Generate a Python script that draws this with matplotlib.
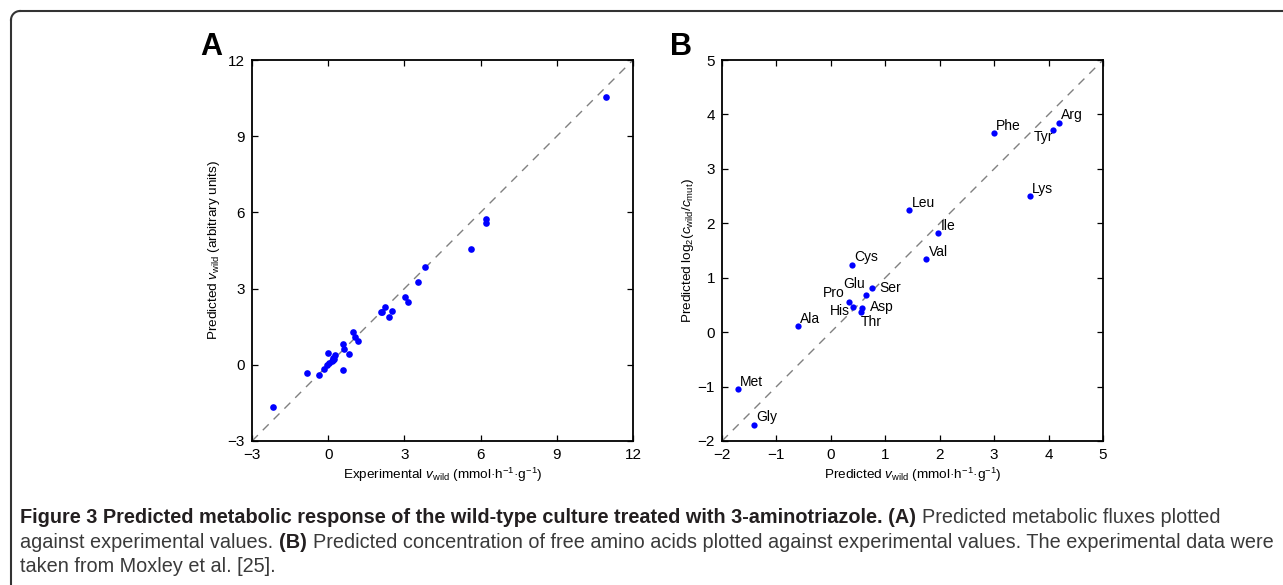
import numpy as np
import matplotlib.pyplot as plt

plt.rcParams['font.family'] = ['Liberation Sans', 'DejaVu Sans']
plt.rcParams['mathtext.fontset'] = 'custom'
plt.rcParams['mathtext.rm'] = 'Liberation Sans'
plt.rcParams['mathtext.it'] = 'Liberation Sans:italic'

W, H = 1283, 585

# panel A: experimental vs predicted fluxes
exp_flux = [10.94, 6.23, 6.20, 5.64, 3.82, 3.54, 3.01, 3.13, 2.25, 2.07, 2.13,
            2.51, 2.39, 0.99, 1.07, 1.19, 0.60, 0.62, 0.80, 0.60, 0.01, 0.27,
            0.23, 0.13, 0.03, -0.05, -0.15, -0.35, -0.85, -2.19, 0.18, 0.20]
pred_flux = [10.56, 5.73, 5.57, 4.57, 3.85, 3.27, 2.68, 2.49, 2.28, 2.09, 2.07,
             2.12, 1.89, 1.28, 1.08, 0.93, 0.81, 0.63, 0.41, -0.22, 0.45, 0.37,
             0.24, 0.16, 0.07, -0.02, -0.18, -0.40, -0.32, -1.65, 0.28, 0.20]

# panel B: amino acids
amino = ['Phe', 'Arg', 'Tyr', 'Lys', 'Leu', 'Ile', 'Val', 'Cys', 'Ser', 'Glu',
         'Pro', 'His', 'Asp', 'Thr', 'Ala', 'Met', 'Gly']
pred_v = [2.99, 4.19, 4.09, 3.65, 1.44, 1.97, 1.75, 0.38, 0.76, 0.64,
          0.33, 0.40, 0.58, 0.55, -0.61, -1.71, -1.42]
log_ratio = [3.65, 3.85, 3.72, 2.50, 2.24, 1.82, 1.34, 1.24, 0.81, 0.69,
             0.56, 0.46, 0.45, 0.37, 0.11, -1.05, -1.70]

# label placement (pixel offsets, alignment)
label_pos = {'Tyr': (0, -7, 'right'), 'Ser': (7, 0, 'left'),
             'Glu': (-1, 11, 'right'), 'Pro': (-4, 9, 'right'),
             'His': (-3, -4, 'right'), 'Asp': (8, 1, 'left'),
             'Thr': (0, -10, 'left')}

fig = plt.figure(figsize=(W / 100, H / 100), dpi=100)

# rounded frame of the figure box
bg = fig.add_axes([0, 0, 1, 1])
bg.set_xlim(0, W)
bg.set_ylim(H, 0)
bg.axis('off')
t = np.linspace(np.pi, 1.5 * np.pi, 30)
bg.plot(20 + 9 * np.cos(t), 20 + 9 * np.sin(t), color='#333333', lw=1.5)
bg.plot([11, 11], [20, H + 5], color='#333333', lw=1.5)
bg.plot([20, W + 5], [11, 11], color='#333333', lw=1.5)


def style_axes(ax):
    for s in ax.spines.values():
        s.set_linewidth(1.3)
    ax.tick_params(direction='in', top=True, right=True, length=4,
                   width=0.9, labelsize=11, pad=5)


axA = fig.add_axes([252 / W, 1 - 441 / H, 381 / W, 381 / H])
axA.plot([-3, 12], [-3, 12], color='#808080', lw=1.0, dashes=(6, 5))
axA.plot(exp_flux, pred_flux, 'o', color='#0000ff', ms=4.8, mew=0)
axA.set_xlim(-3, 12)
axA.set_ylim(-3, 12)
axA.set_xticks(np.arange(-3, 13, 3))
axA.set_yticks(np.arange(-3, 13, 3))
style_axes(axA)
axA.set_xlabel(r'Experimental $v_{\rm wild}$ (mmol·h$^{-1}$·g$^{-1}$)', fontsize=9.7, labelpad=3)
axA.set_ylabel(r'Predicted $v_{\rm wild}$ (arbitrary units)', fontsize=9.7, labelpad=4)

axB = fig.add_axes([722 / W, 1 - 441 / H, 381 / W, 381 / H])
axB.plot([-2, 5], [-2, 5], color='#808080', lw=1.0, dashes=(6, 5))
axB.plot(pred_v, log_ratio, 'o', color='#0000ff', ms=4.5, mew=0)
for name, x, y in zip(amino, pred_v, log_ratio):
    dx, dy, ha = label_pos.get(name, (2.5, 7.5, 'left'))
    axB.annotate(name, (x, y), xytext=(dx * 0.72, dy * 0.72), textcoords='offset points',
                 ha=ha, va='center', fontsize=10)
axB.set_xlim(-2, 5)
axB.set_ylim(-2, 5)
axB.set_xticks(np.arange(-2, 6, 1))
axB.set_yticks(np.arange(-2, 6, 1))
style_axes(axB)
axB.set_xlabel(r'Predicted $v_{\rm wild}$ (mmol·h$^{-1}$·g$^{-1}$)', fontsize=9.7, labelpad=3)
axB.set_ylabel(r'Predicted log$_2$($c_{\rm wild}$/$c_{\rm mut}$)', fontsize=9.7, labelpad=1)

fig.text(200 / W, 1 - 55 / H, 'A', fontsize=22, fontweight='bold', ha='left', va='baseline')
fig.text(670 / W, 1 - 55 / H, 'B', fontsize=22, fontweight='bold', ha='left', va='baseline')

# caption, written piece by piece (bold / regular)
cap_font = ['Liberation Sans Narrow', 'Liberation Sans', 'DejaVu Sans']
caption = [
    [('Figure 3 Predicted metabolic response of the wild-type culture treated with 3-aminotriazole. (A)', True),
     ('Predicted metabolic fluxes plotted', False)],
    [('against experimental values.', False), ('(B)', True),
     ('Predicted concentration of free amino acids plotted against experimental values. The experimental data were', False)],
    [('taken from Moxley et al. [25].', False)],
]
cap_y = [523, 548, 572]
fig.canvas.draw()
renderer = fig.canvas.get_renderer()
for line, y in zip(caption, cap_y):
    x = 20
    for txt, bold in line:
        tt = fig.text(x / W, 1 - y / H, txt, family=cap_font, fontsize=14.3,
                      fontweight='bold' if bold else 'normal',
                      color='#231f20' if bold else '#3a3a3a', va='baseline')
        x += tt.get_window_extent(renderer).width + 6

fig.savefig('out.png', dpi=100)
